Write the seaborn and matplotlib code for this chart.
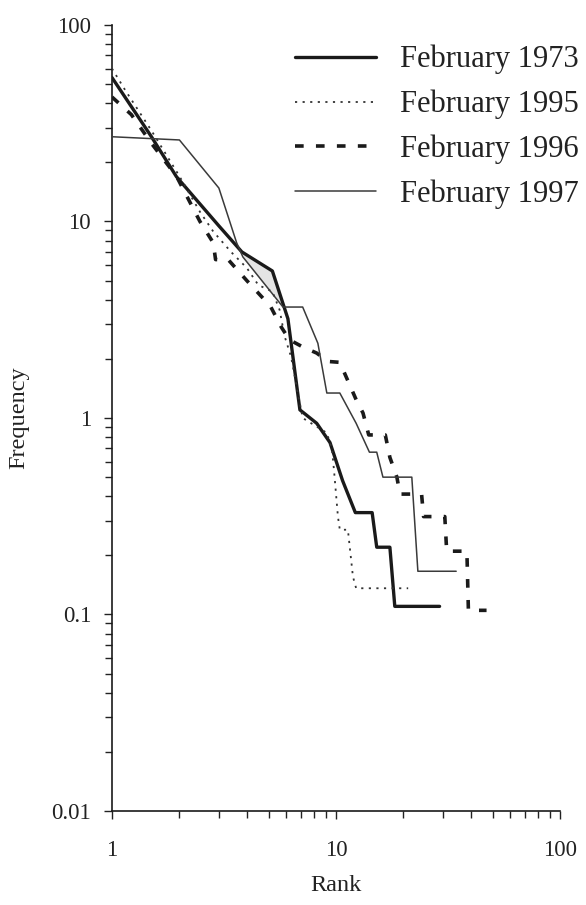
import numpy as np
import pandas as pd
import matplotlib
matplotlib.use("Agg")
import matplotlib.pyplot as plt
import seaborn as sns

# ---- data (rank, frequency) ----
rank_1973 = [1, 1.5, 1.94, 3.0, 3.8, 5.2, 6.1, 6.9, 8.2, 9.4, 10.7, 12.2, 14.5, 15.2, 17.4, 18.3, 29]
freq_1973 = [54, 27, 16.9, 9.5, 7.0, 5.6, 3.2, 1.1, 0.94, 0.75, 0.48, 0.33, 0.33, 0.22, 0.22, 0.11, 0.11]

rank_1995 = [1, 1.14, 1.5, 2.0, 2.47, 2.83, 3.4, 4.0, 4.5, 5.2, 5.6, 5.9, 6.3, 7.1, 9.1, 9.6,
             9.8, 10.2, 10.4, 11.3, 11.9, 12.3, 21]
freq_1995 = [60, 47, 29, 17, 11.2, 8.9, 7.0, 5.8, 4.75, 4.4, 3.55, 2.6, 2.05, 1.0, 0.84, 0.69,
             0.54, 0.315, 0.27, 0.27, 0.156, 0.136, 0.136]

rank_1996 = [1, 1.22, 1.5, 1.94, 2.47, 2.83, 2.9, 3.3, 4.0, 5.1, 5.7, 6.2, 7.1, 8.2, 9.2, 10.4,
             11.1, 12.3, 13.2, 14.0, 16.6, 17.4, 18.7, 19.3, 24.1, 24.6, 30.6, 31.2, 38.4, 39.0, 47]
freq_1996 = [43, 35, 25, 17, 10.0, 7.8, 6.4, 6.4, 5.0, 3.7, 2.9, 2.5, 2.3, 2.14, 1.94, 1.92,
             1.62, 1.24, 1.06, 0.82, 0.82, 0.63, 0.5, 0.41, 0.41, 0.315, 0.315, 0.21, 0.21, 0.105, 0.105]

rank_1997 = [1, 2.0, 3.0, 3.6, 3.84, 5.8, 7.1, 8.3, 9.1, 10.4, 12.3, 14.1, 15.2, 16.2, 21.8, 23.2, 34.4]
freq_1997 = [27, 26, 14.8, 7.8, 6.6, 3.67, 3.67, 2.4, 1.34, 1.34, 0.94, 0.67, 0.67, 0.5, 0.5, 0.166, 0.166]

series_names = ["February 1973", "February 1995", "February 1996", "February 1997"]
x_ticks = [1, 10, 100]
x_tick_labels = ["1", "10", "100"]
y_ticks = [0.01, 0.1, 1, 10, 100]
y_tick_labels = ["0.01", "0.1", "1", "10", "100"]

frames = []
for name, r, f in zip(series_names,
                      [rank_1973, rank_1995, rank_1996, rank_1997],
                      [freq_1973, freq_1995, freq_1996, freq_1997]):
    frames.append(pd.DataFrame({"Rank": r, "Frequency": f, "series": name, "order": range(len(r))}))
df = pd.concat(frames, ignore_index=True)

sns.set_style("ticks")
plt.rcParams["font.family"] = ["Liberation Serif", "DejaVu Serif"]
plt.rcParams["text.color"] = "#222222"
plt.rcParams["axes.labelcolor"] = "#222222"
plt.rcParams["xtick.color"] = "#222222"
plt.rcParams["ytick.color"] = "#222222"

fig = plt.figure(figsize=(5.86, 9.05), dpi=100)
ax = fig.add_axes([112 / 586, 1 - 811 / 905, (560 - 112) / 586, (811 - 25) / 905])

styles = {
    "February 1973": dict(color="#1a1a1a", lw=2.4, ls="-"),
    "February 1995": dict(color="#333333", lw=1.3, ls=(0, (1.2, 3.0))),
    "February 1996": dict(color="#1a1a1a", lw=2.6, ls=(0, (2.4, 3.4))),
    "February 1997": dict(color="#3a3a3a", lw=1.1, ls="-"),
}

# light grey patch between 1973 and 1997 lines
lo, hi = rank_1997[4], rank_1997[5]
grid = np.geomspace(lo, hi, 40)
y73 = 10 ** np.interp(np.log10(grid), np.log10(rank_1973), np.log10(freq_1973))
y97 = 10 ** np.interp(np.log10(grid), np.log10(rank_1997), np.log10(freq_1997))
ax.fill_between(grid, np.minimum(y73, y97), np.maximum(y73, y97), color="#e4e4e4", lw=0, zorder=1)

for name in series_names:
    sub = df[df["series"] == name]
    st = styles[name]
    sns.lineplot(data=sub, x="Rank", y="Frequency", ax=ax, sort=False, estimator=None,
                 color=st["color"], linewidth=st["lw"], linestyle=st["ls"], label=name, zorder=3)

ax.set_xscale("log")
ax.set_yscale("log")
ax.set_xlim(1, 100)
ax.set_ylim(0.01, 100)
ax.set_xticks(x_ticks, labels=x_tick_labels)
ax.set_yticks(y_ticks, labels=y_tick_labels)
ax.tick_params(axis="both", which="major", length=6, width=1.0, labelsize=16.5, direction="out")
ax.tick_params(axis="both", which="minor", length=5, width=1.0, direction="out")
ax.tick_params(axis="x", which="major", pad=15)
ax.tick_params(axis="y", which="major", pad=9)
sns.despine(ax=ax)
for s in ["left", "bottom"]:
    ax.spines[s].set_linewidth(1.2)
    ax.spines[s].set_color("#1a1a1a")

ax.set_xlabel("Rank", fontsize=17.5, labelpad=10)
ax.set_ylabel("Frequency", fontsize=17.5, labelpad=16)

leg = ax.legend(loc="upper left", bbox_to_anchor=(295 / 586, 1 - 45 / 905),
                bbox_transform=fig.transFigure, frameon=False, fontsize=22,
                handlelength=2.65, handletextpad=0.8, labelspacing=0.5, borderpad=0,
                borderaxespad=0)

fig.savefig("out.png", dpi=100)
